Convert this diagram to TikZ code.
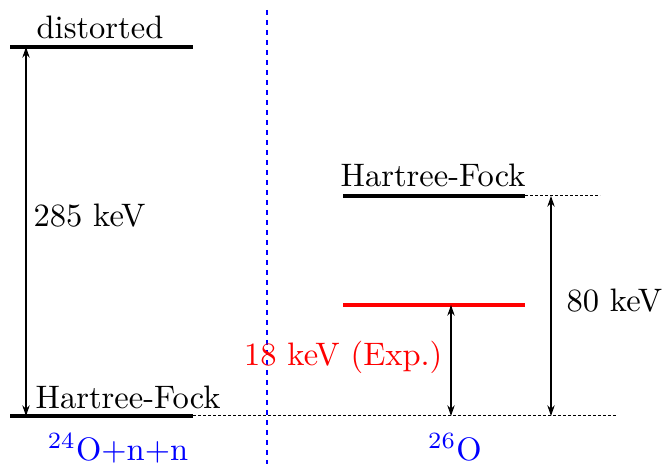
\documentclass[tikz,border=0pt]{standalone}
\usetikzlibrary{arrows.meta}
\begin{document}
\begin{tikzpicture}[x=0.3pt,y=-0.3pt,
  level/.style={line width=0.95pt},
  expl/.style={line width=0.95pt,red},
  guide/.style={line width=0.3pt,dash pattern=on 0.9pt off 0.6pt},
  gap/.style={line width=0.35pt,{Stealth[length=3.2pt,width=2.2pt,inset=1pt]}-{Stealth[length=3.2pt,width=2.2pt,inset=1pt]}},
  sep/.style={line width=0.55pt,blue,dash pattern=on 1.6pt off 1.4pt},
  lbl/.style={inner sep=0pt,font=\fontsize{9.75}{12}\selectfont}]
\useasboundingbox (0,0) rectangle (663,464);
% left levels
\coordinate (dl) at (10,47);
\coordinate (dr) at (193,47);
\coordinate (hl) at (10,416);
\coordinate (hr) at (193,416);
\coordinate (gend) at (617,416);
\draw[level] (dl) -- (dr);
\draw[level] (hl) -- (hr);
\draw[guide] (hr) -- (gend);
% separator
\coordinate (st) at (267,10);
\coordinate (sb) at (267,464);
\draw[sep] (st) -- (sb);
% right levels
\coordinate (rhl) at (343,196);
\coordinate (rhr) at (525,196);
\coordinate (rhe) at (600,196);
\coordinate (el) at (343,305);
\coordinate (er) at (525,305);
\draw[level] (rhl) -- (rhr);
\draw[guide] (rhr) -- (rhe);
\draw[expl] (el) -- (er);
% arrows
\coordinate (a1t) at (26,47);
\coordinate (a1b) at (26,416);
\draw[gap] (a1t) -- (a1b);
\coordinate (a2t) at (451,305);
\coordinate (a2b) at (451,416);
\draw[gap] (a2t) -- (a2b);
\coordinate (a3t) at (551,196);
\coordinate (a3b) at (551,416);
\draw[gap] (a3t) -- (a3b);
% labels
\node[lbl,anchor=base west] (tdist) at (36,39) {distorted};
\node[lbl,anchor=base west] (thf1) at (35,408) {Hartree-Fock};
\node[lbl,anchor=base west] (thf2) at (340,187) {Hartree-Fock};
\node[lbl,anchor=base west] (t285) at (33,227) {285 keV};
\node[lbl,anchor=base west] (t80) at (566,311) {80 keV};
\node[lbl,anchor=base east,red] (t18) at (443,366) {18 keV (Exp.)};
\node[lbl,anchor=base,blue] (tl) at (118,461) {$^{24}$O+n+n};
\node[lbl,anchor=base,blue] (tr) at (455,461) {$^{26}$O};
\end{tikzpicture}
\end{document}
